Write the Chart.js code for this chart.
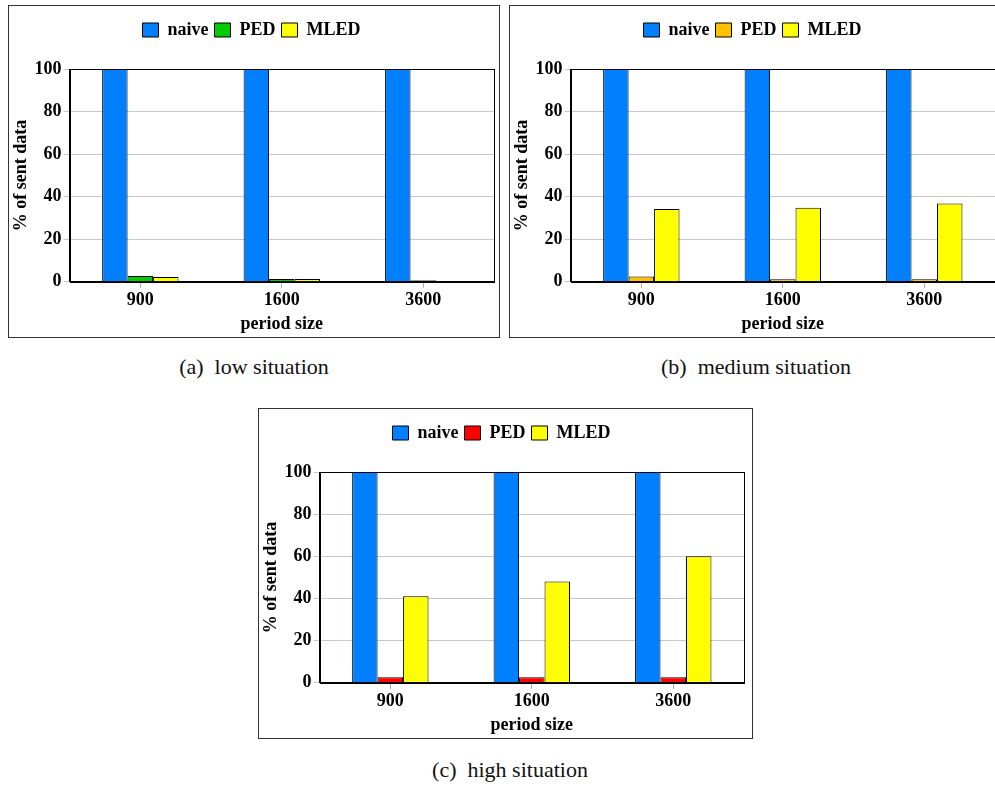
<!DOCTYPE html>
<html>
<head>
<meta charset="utf-8">
<script src="https://cdn.jsdelivr.net/npm/chart.js@4.4.0/dist/chart.umd.min.js"></script>
<style>
  body { margin: 0; width: 995px; height: 787px; overflow: hidden; background: #fff; position: relative; }
  .panel { position: absolute; border: 1px solid #333; box-sizing: border-box; background: #fff; }
  .panel div { position: absolute; left: 0; top: 0; right: 0; bottom: 0; }
  .caption { position: absolute; font-family: "Liberation Serif", serif; font-size: 22px; color: #111; white-space: pre; transform: translateX(-50%); }
</style>
</head>
<body>
<div class="panel" style="left:8px;top:5px;width:492px;height:333px;"><div><canvas id="lowChart"></canvas></div></div>
<div class="panel" style="left:509px;top:5px;width:492px;height:333px;"><div><canvas id="mediumChart"></canvas></div></div>
<div class="panel" style="left:258px;top:408px;width:495px;height:331px;"><div><canvas id="highChart"></canvas></div></div>
<div class="caption" style="left:254px;top:354px;">(a)  low situation</div>
<div class="caption" style="left:756px;top:354px;">(b)  medium situation</div>
<div class="caption" style="left:510px;top:757px;">(c)  high situation</div>
<script>
// Data
const categories = ['900', '1600', '3600'];
const seriesNames = ['naive', 'PED', 'MLED'];

const naiveLow = [100, 100, 100];
const pedLow = [2.7, 1.3, 0.7];
const mledLow = [2.2, 1.3, 0];

const naiveMedium = [100, 100, 100];
const pedMedium = [2.5, 1.2, 1.2];
const mledMedium = [34.2, 34.8, 36.8];

const naiveHigh = [100, 100, 100];
const pedHigh = [2.6, 2.6, 2.6];
const mledHigh = [41, 48, 60];

const yTicks = [0, 20, 40, 60, 80, 100];

const serif = '"Liberation Serif", "Times New Roman", serif';
const boldFont = { family: serif, size: 18, weight: 'bold' };

// draws the box round the plot area
const frameBox = {
    id: 'frameBox',
    afterDraw(chart) {
        const a = chart.chartArea;
        const ctx = chart.ctx;
        ctx.save();
        ctx.strokeStyle = '#000';
        ctx.lineWidth = 1;
        ctx.strokeRect(Math.round(a.left) + 0.5, Math.round(a.top) + 0.5,
            Math.round(a.right - a.left), Math.round(a.bottom - a.top));
        ctx.restore();
    }
};

// extra room under the legend
const legendGap = {
    id: 'legendGap',
    beforeInit(chart) {
        const fit = chart.legend.fit;
        chart.legend.fit = function () {
            fit.bind(chart.legend)();
            this.height += 20;
        };
    }
};

function makeChart(id, naive, ped, mled, pedColor, padRight) {
    const ctx = document.getElementById(id).getContext('2d');
    const colors = ['#0080ff', pedColor, '#ffff00'];
    const values = [naive, ped, mled];
    return new Chart(ctx, {
        type: 'bar',
        data: {
            labels: categories,
            datasets: seriesNames.map((name, i) => ({
                label: name,
                data: values[i],
                backgroundColor: colors[i],
                borderColor: '#000',
                borderWidth: 1,
                categoryPercentage: 0.54,
                barPercentage: 1
            }))
        },
        options: {
            responsive: true,
            maintainAspectRatio: false,
            animation: false,
            layout: { padding: { top: 9, left: 0, right: padRight, bottom: 0 } },
            plugins: {
                legend: {
                    display: true,
                    position: 'top',
                    labels: {
                        color: '#000',
                        boxWidth: 16,
                        boxHeight: 14,
                        padding: 6,
                        font: boldFont
                    }
                },
                tooltip: { enabled: false }
            },
            scales: {
                x: {
                    grid: { display: true, offset: false, drawOnChartArea: false, tickLength: 6, color: '#aaa' },
                    border: { color: '#000' },
                    ticks: { color: '#000', padding: 2, font: boldFont },
                    title: { display: true, text: 'period size', color: '#000', padding: { top: 0, bottom: 2 },
                        font: boldFont }
                },
                y: {
                    min: 0,
                    max: 100,
                    afterBuildTicks: axis => { axis.ticks = yTicks.map(v => ({ value: v })); },
                    grid: { color: '#c8c8c8', tickLength: 6 },
                    border: { color: '#000' },
                    ticks: { color: '#000', padding: 2, font: boldFont },
                    title: { display: true, text: '% of sent data', color: '#000', padding: { top: 2, bottom: 0 },
                        font: boldFont }
                }
            }
        },
        plugins: [frameBox, legendGap]
    });
}

makeChart('lowChart', naiveLow, pedLow, mledLow, '#00cc00', 5);
makeChart('mediumChart', naiveMedium, pedMedium, mledMedium, '#ffc000', 5);
makeChart('highChart', naiveHigh, pedHigh, mledHigh, '#ff0000', 8);
</script>
</body>
</html>
